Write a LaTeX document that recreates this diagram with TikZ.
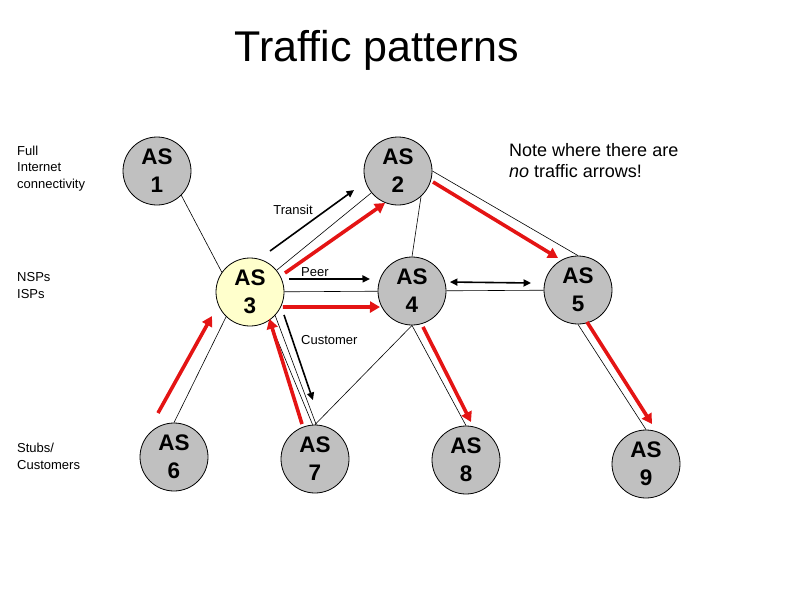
\documentclass[tikz,border=0pt]{standalone}
\usepackage{fontspec}
\setmainfont{Liberation Sans}
\usetikzlibrary{arrows.meta,positioning,calc}
\definecolor{asgrey}{RGB}{192,192,192}
\definecolor{asyellow}{RGB}{255,255,204}
\definecolor{trafficred}{RGB}{228,20,20}
\tikzset{
  asnode/.style={
    circle, draw=black, line width=0.8pt, fill=asgrey,
    minimum size=68pt, inner sep=0pt, align=center,
    font=\fontsize{22.5}{28}\selectfont\bfseries
  },
  asfocus/.style={asnode, fill=asyellow},
  link/.style={draw=black, line width=0.6pt},
  traffic/.style={-{Triangle[length=10pt,width=11pt]}, line width=3.6pt, draw=trafficred},
  relarrow/.style={-{Triangle[length=7.5pt,width=7pt]}, line width=1.6pt, draw=black},
  tierlbl/.style={font=\fontsize{13}{16.5}\selectfont, align=left, anchor=north west, inner sep=0pt},
  rellbl/.style={font=\fontsize{13}{15}\selectfont, inner sep=0pt}
}

\begin{document}
\begin{tikzpicture}[x=1pt, y=1pt,
    title/.style={font=\fontsize{43}{48}\selectfont, anchor=base, inner sep=0pt},
    note/.style={font=\fontsize{18}{21}\selectfont, align=left, anchor=north west, inner sep=0pt}
]
  \useasboundingbox (0,0) rectangle (794,-595);

  % Title and tier labels
  \node[title] (title) at (377,-61) {Traffic patterns};
  \node[tierlbl] (full)  at (17,-145.5) {Full\\Internet\\connectivity};
  \node[tierlbl] (nsp)   at (17,-272.5) {NSPs\\ISPs};
  \node[tierlbl] (stubs) at (17,-443)   {Stubs/\\Customers};
  \node[note] (note) at (509,-143) {Note where there are\\\textit{no} traffic arrows!};

  % Autonomous systems
  \node[asnode]  (as1) at (157,-171) {AS\\1};
  \node[asnode]  (as2) at (398,-171) {AS\\2};
  \node[asfocus] (as3) at (250,-292) {AS\\3};
  \node[asnode]  (as4) at (412,-291) {AS\\4};
  \node[asnode]  (as5) at (578,-290) {AS\\5};
  \node[asnode]  (as6) at (174,-457) {AS\\6};
  \node[asnode]  (as7) at (315,-459) {AS\\7};
  \node[asnode]  (as8) at (466,-460) {AS\\8};
  \node[asnode]  (as9) at (646,-464) {AS\\9};

  % Links
  \draw[link] (as1.-45) -- (as3.145);
  \draw[link] (as2) -- (as3);
  \draw[link] (as2.-48) -- (as4.north);
  \draw[link] (as2.east) -- (as5.north);
  \draw[link] (as3) -- (as4);
  \draw[link] (as4) -- (as5);
  \draw[link] (as3.226) -- (as6.north);
  \draw[link] (as3.-56) -- (as7.94);
  \draw[link] (as3.-43) -- (as7.88);
  \draw[link] (as4.south) -- (as7.north);
  \draw[link] (as4.south) -- (as8.north);
  \draw[link] (as5.south) -- (as9.north);

  % Relationship arrows
  \draw[relarrow] ($(as3)+(64:45.6pt)$) -- ($(as2)+(203.4:47.9pt)$);
  \draw[relarrow] ($(as3)+(18.4:41.1pt)$) -- ($(as4)+(164:43.7pt)$);
  \draw[relarrow, {Triangle[length=7.5pt,width=7pt]}-{Triangle[length=7.5pt,width=7pt]}]
       ($(as4)+(13.3:39pt)$) -- ($(as5)+(171.5:47.5pt)$);
  \draw[relarrow] ($(as3)+(-34:41pt)$) -- ($(as7)+(92:59pt)$);
  \node[rellbl] (transit)  at (293,-210) {Transit};
  \node[rellbl, anchor=west] (peer)     at (301,-272) {Peer};
  \node[rellbl, anchor=west] (customer) at (301,-340) {Customer};

  % Traffic (red)
  \draw[traffic] ($(as3)+(28.5:39.8pt)$) -- ($(as2)+(247.9:34.5pt)$);
  \draw[traffic] ($(as3)+(-24.4:36.2pt)$) -- ($(as4)+(206.6:35.8pt)$);
  \draw[traffic] ($(as2)+(-17.4:36.7pt)$) -- ($(as5)+(122:37.7pt)$);
  \draw[traffic] ($(as6)+(110:46.8pt)$) -- ($(as3)+(212.3:45pt)$);
  \draw[traffic] ($(as7)+(110.4:37.3pt)$) -- ($(as3)+(305.8:33pt)$);
  \draw[traffic] ($(as4)+(-73:37.6pt)$) -- ($(as8)+(82.5:38.3pt)$);
  \draw[traffic] ($(as5)+(-74.3:33.2pt)$) -- ($(as9)+(81.5:40.4pt)$);
\end{tikzpicture}
\end{document}
